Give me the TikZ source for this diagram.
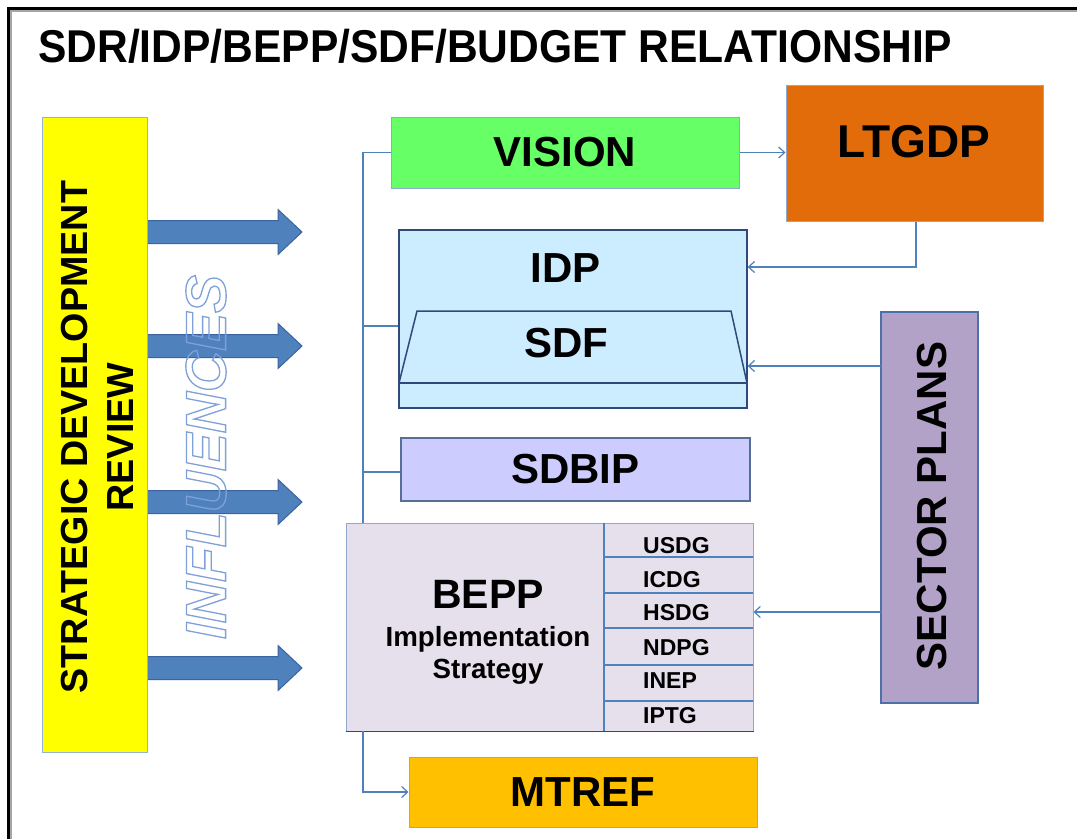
\documentclass[tikz,border=0pt]{standalone}
\usepackage{fontspec}
\setmainfont{Liberation Sans}
\usetikzlibrary{arrows.meta}
\definecolor{connc}{HTML}{4F81BD}
\definecolor{yel}{HTML}{FFFF00}
\definecolor{yelb}{HTML}{95B3D7}
\definecolor{visf}{HTML}{66FF66}
\definecolor{ltgf}{HTML}{E36C0A}
\definecolor{idpf}{HTML}{CCECFF}
\definecolor{darkb}{HTML}{2F4A7A}
\definecolor{sdbf}{HTML}{CCCCFF}
\definecolor{beppf}{HTML}{E6E0EC}
\definecolor{mtrf}{HTML}{FFC000}
\definecolor{secf}{HTML}{B3A2C7}
\definecolor{secb}{HTML}{4F6FA8}
\definecolor{arrf}{HTML}{4F81BD}
\definecolor{arrb}{HTML}{3A64A0}
\definecolor{inflc}{HTML}{7FA0D8}
\definecolor{boxb}{HTML}{8FA8D0}
\newcommand\fsz[1]{\fontsize{#1}{#1}\selectfont}
\newcommand\outlinetext[1]{\special{pdf:literal direct 1 Tr 1.3 w}#1\special{pdf:literal direct 0 Tr}}
\begin{document}
\begin{tikzpicture}[x=1pt,y=-1pt,
  box/.style={draw=boxb, line width=1pt, inner sep=0pt, rectangle},
  conn/.style={draw=connc, line width=1.2pt},
  tip/.style={-{Straight Barb[length=6pt,width=11pt]}},
  blockarrow/.style={fill=arrf, draw=arrb, line width=1pt},
  biglabel/.style={font=\bfseries\fsz{42}},
  cell/.style={font=\bfseries\fsz{23}, anchor=base west, inner sep=0pt}
]
\useasboundingbox (0,0) rectangle (1077,839);
\fill[white] (0,0) rectangle (1077,839);

% frame
\draw[black!35, line width=1.5pt] (11,839) -- (11,11) -- (1077,11);
\draw[black, line width=3pt] (8.5,839) -- (8.5,8.5) -- (1077,8.5);

% title
\node[anchor=base west, inner sep=0pt, font=\bfseries\fsz{46}] (title) at (38,62)
  {\scalebox{0.925}[1]{SDR/IDP/BEPP/SDF/BUDGET RELATIONSHIP}};

% block arrows
\foreach \yy in {232,346,502,668}
  \draw[blockarrow] (147,{\yy-11.5}) -- (278,{\yy-11.5}) -- (278,{\yy-22.5}) -- (302,\yy)
     -- (278,{\yy+22.5}) -- (278,{\yy+11.5}) -- (147,{\yy+11.5}) -- cycle;

% strategic development review
\node[box, draw=yelb, fill=yel, minimum width=105pt, minimum height=635pt] (sdr) at (94.5,434.5) {};
\node[rotate=90, align=center, font=\bfseries\fontsize{37.7}{46}\selectfont, inner sep=0pt] (sdrt) at (97,437)
  {STRATEGIC DEVELOPMENT\\REVIEW};

% influences
\node[rotate=90, inner sep=0pt, text=inflc, font=\bfseries\itshape\fsz{57}] (infl) at (206,457)
  {\outlinetext{INFLUENCES}};

% vision
\node[box, fill=visf, minimum width=348pt, minimum height=71pt, biglabel] (vision) at (565,152.5) {VISION};

% LTGDP
\node[box, fill=ltgf, minimum width=257pt, minimum height=136pt] (ltgdp) at (914.5,153) {};
\node[font=\bfseries\fsz{46}, inner sep=0pt] (ltgdpt) at (914,142) {LTGDP};

% IDP
\node[box, draw=darkb, line width=1.3pt, fill=idpf, minimum width=348pt, minimum height=178pt] (idp) at (573,319) {};
\node[biglabel, inner sep=0pt] (idpt) at (566,268) {IDP};
\draw[draw=darkb, line width=1.5pt, fill=idpf] (399,383) -- (417,311) -- (731,311) -- (747,383);
\draw[draw=darkb, line width=2.8pt] (399,383) -- (747,383);
\node[biglabel, inner sep=0pt] (sdf) at (566,343) {SDF};

% SDBIP
\node[box, draw=darkb!80, line width=1.3pt, fill=sdbf, minimum width=349pt, minimum height=63pt, biglabel] (sdbip) at (575.5,469.5) {SDBIP};

% BEPP
\node[box, fill=beppf, minimum width=407pt, minimum height=208pt] (bepp) at (549.5,627) {};
\draw[darkb, line width=1.8pt] (bepp.south west) -- (bepp.south east);
\draw[connc, line width=1.2pt] (604,523) -- (604,731);
\foreach \yy in {557,593,628,665,701}
  \draw[connc, line width=1.2pt] (604,\yy) -- (753,\yy);
\node[font=\bfseries\fsz{41}, anchor=base, inner sep=0pt] (beppt) at (488,608) {BEPP};
\node[font=\bfseries\fsz{27.7}, anchor=base, inner sep=0pt] (impl) at (488,646) {Implementation};
\node[font=\bfseries\fsz{27.7}, anchor=base, inner sep=0pt] (strat) at (488,678) {Strategy};
\node[cell] (usdg) at (643,553) {USDG};
\node[cell] (icdg) at (643,587) {ICDG};
\node[cell] (hsdg) at (643,620) {HSDG};
\node[cell] (ndpg) at (643,655) {NDPG};
\node[cell] (inep) at (643,688) {INEP};
\node[cell] (iptg) at (643,723) {IPTG};

% MTREF
\node[box, fill=mtrf, minimum width=348pt, minimum height=70pt, biglabel] (mtref) at (583,792) {MTREF};

% sector plans
\node[box, draw=secb, line width=2pt, fill=secf, minimum width=97pt, minimum height=391pt] (sector) at (929.5,507.5) {};
\node[rotate=90, biglabel, inner sep=0pt] (sectort) at (932,506) {SECTOR PLANS};

% connectors
\coordinate (t1) at (363,152.5);
\coordinate (t2) at (363,523);
\coordinate (t3) at (363,731);
\draw[conn] (vision.west) -- (t1) -- (t2);
\draw[conn] ([yshift=-7pt]idp.west) -- ([yshift=-7pt]idp.west -| t1);
\draw[conn] ([yshift=-2.5pt]sdbip.west) -- ([yshift=-2.5pt]sdbip.west -| t1);
\draw[conn, tip] (t3) |- (mtref.west);
\draw[conn, tip] (vision.east) -- (vision.east -| ltgdp.west);
\coordinate (c1) at (916,267);
\draw[conn, tip] (ltgdp.south -| c1) -- (c1) -- (c1 -| idp.east);
\coordinate (c2) at (881,366);
\draw[conn, tip] (c2) -- (c2 -| idp.east);
\coordinate (c3) at (881,612);
\draw[conn, tip] (c3) -- (c3 -| bepp.east);
\end{tikzpicture}
\end{document}
